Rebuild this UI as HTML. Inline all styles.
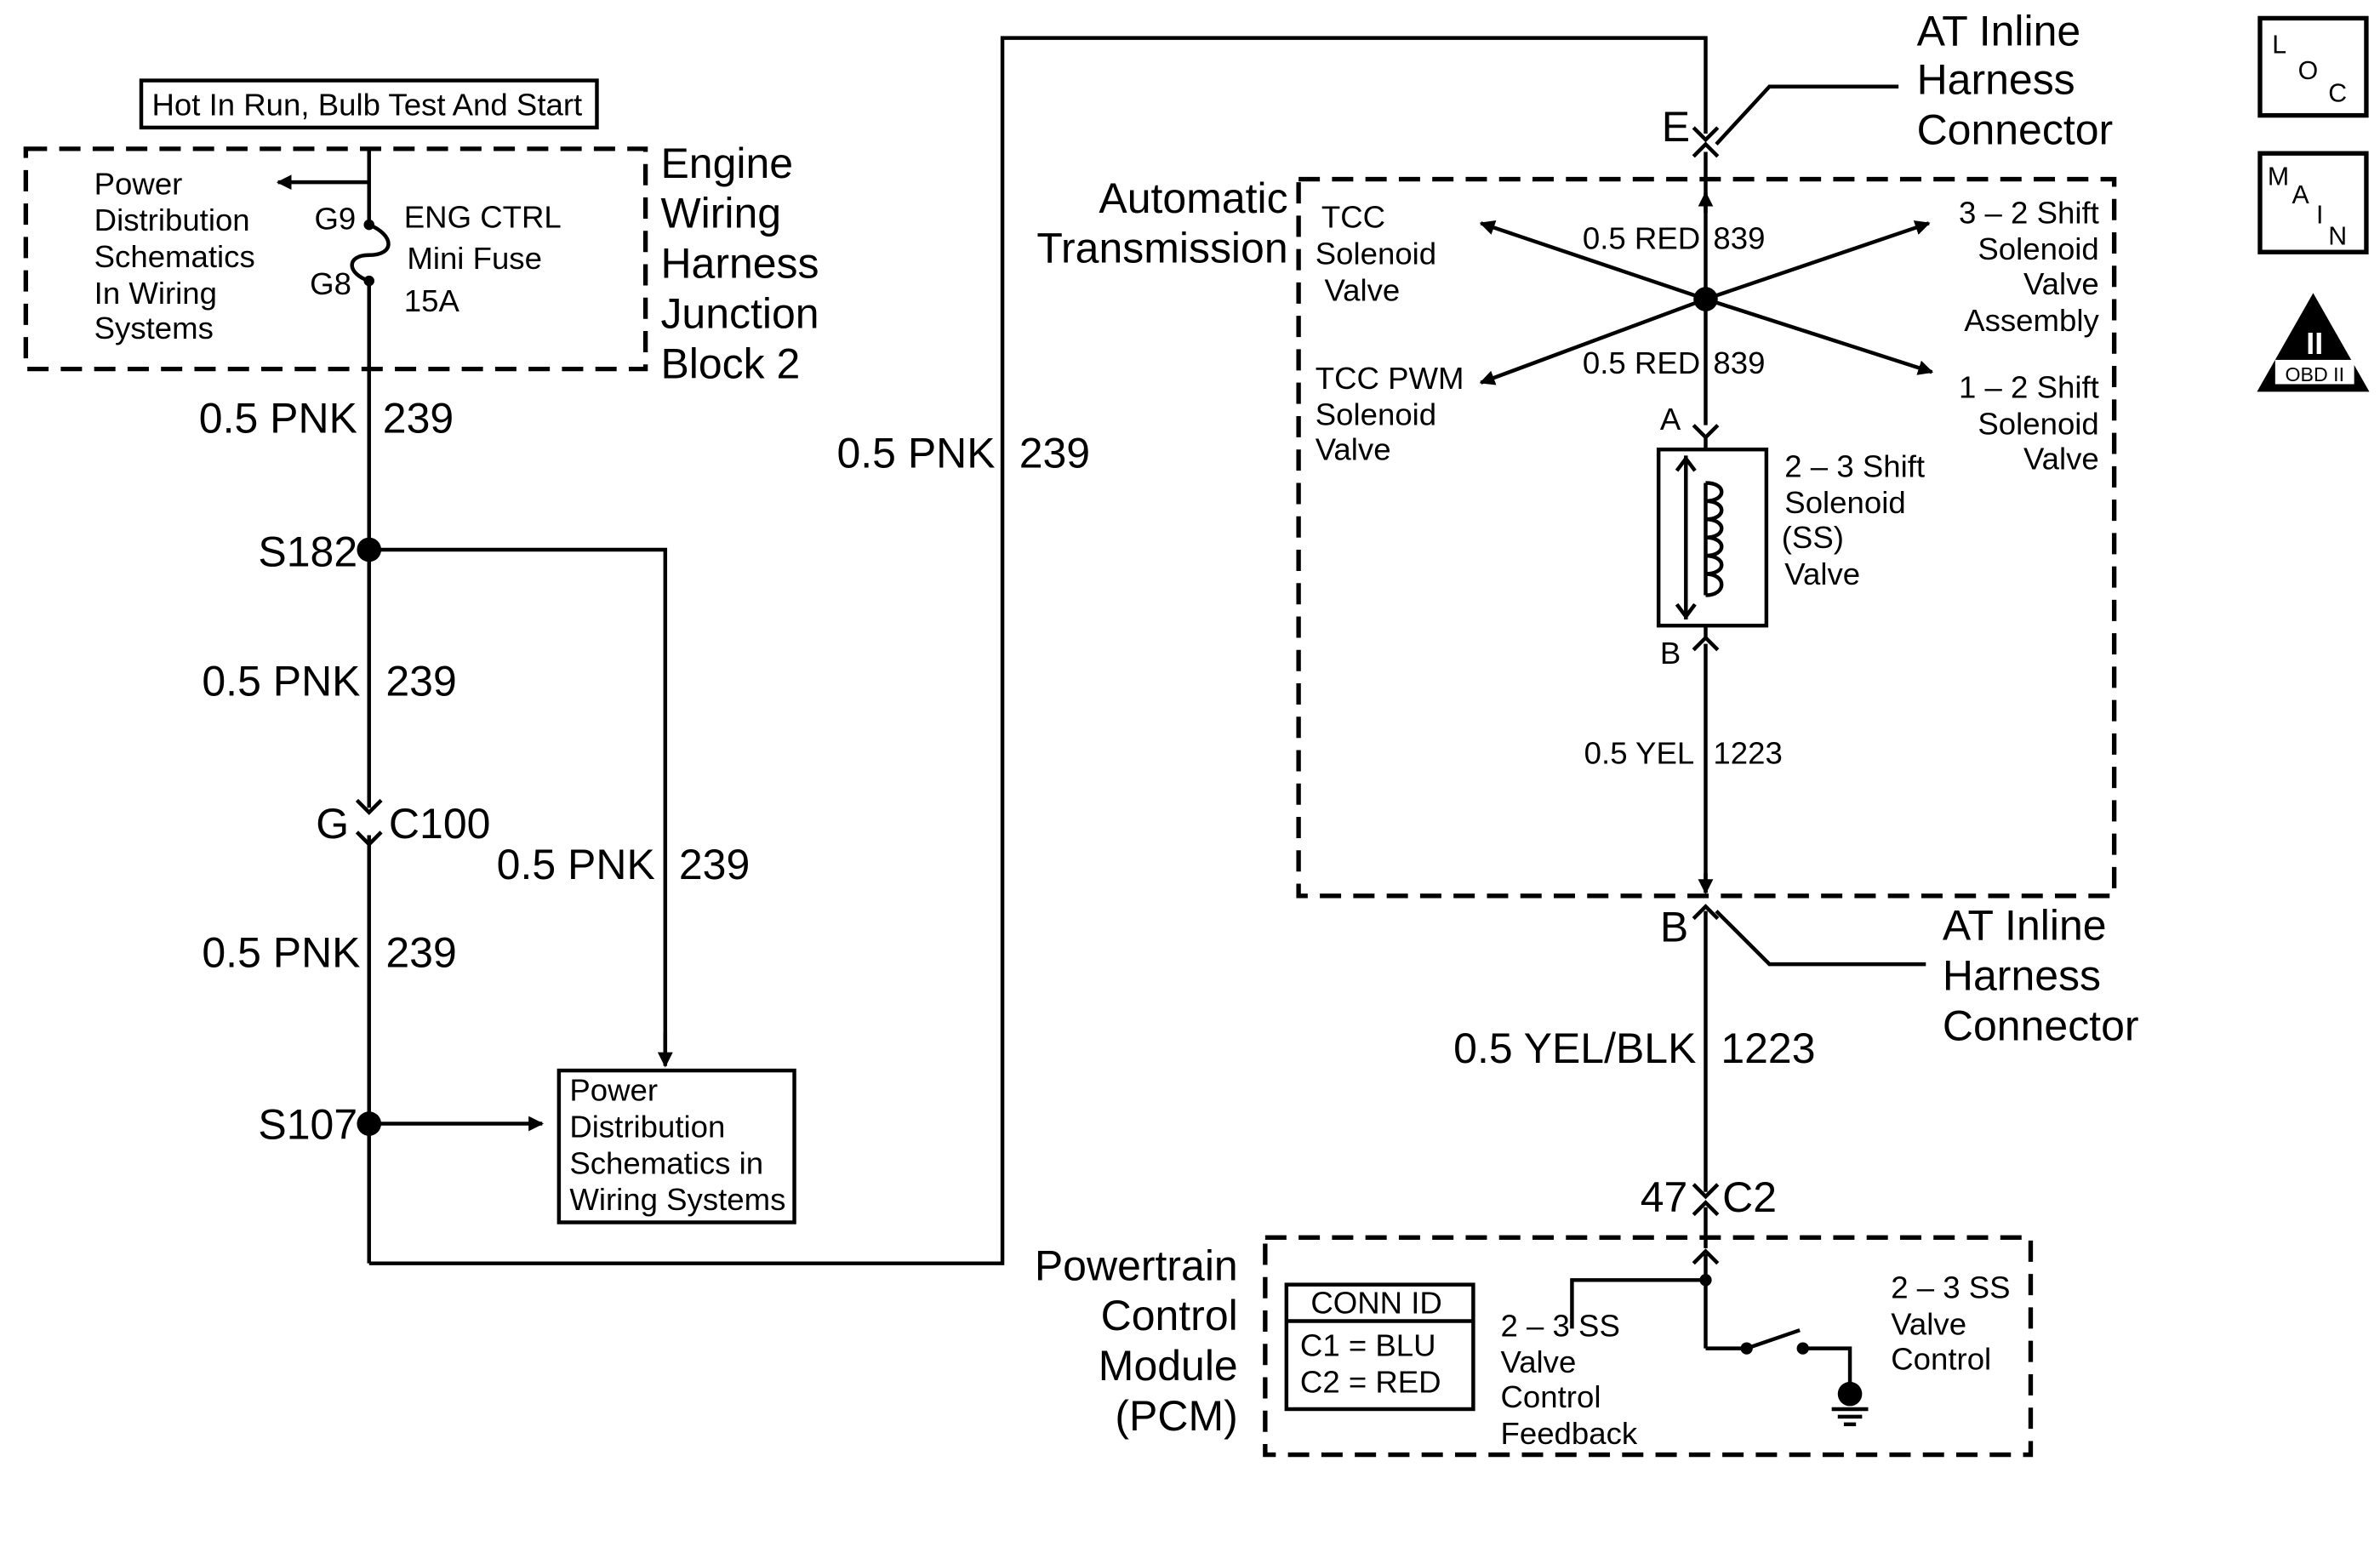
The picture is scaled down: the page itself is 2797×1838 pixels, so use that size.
<!DOCTYPE html>
<html><head><meta charset="utf-8"><style>
html,body{margin:0;padding:0;background:#fff;}
svg{display:block;}
text{font-family:"Liberation Sans",Arial,sans-serif;fill:#000;}
.s{font-size:20.5px;}
.b{font-size:28px;}
</style></head><body>
<svg width="2797" height="1838" viewBox="0 0 1567 1030" preserveAspectRatio="none" xmlns="http://www.w3.org/2000/svg">
<defs>
<marker id="ar" markerWidth="10" markerHeight="10" refX="9" refY="5" orient="auto" markerUnits="userSpaceOnUse"><path d="M0,0 L10,5 L0,10 Z" fill="#000"/></marker>
</defs>
<rect width="1567" height="1030" fill="#fff"/>
<g stroke="#000" fill="none" stroke-width="2.5">
<rect x="93" y="53" width="300" height="31"/>
<rect x="17" y="98" width="408" height="145" stroke-dasharray="14,8" stroke-width="3"/>
<line x1="243" y1="120" x2="183" y2="120" marker-end="url(#ar)"/>
<line x1="243" y1="98" x2="243" y2="148"/>
<path d="M243,148 C260,155 260,168 243,168 C228,168 228,180 243,185"/>
<line x1="243" y1="185" x2="243" y2="532"/>
<line x1="243" y1="550" x2="243" y2="832"/>
<polyline points="235,527 243,535 251,527"/>
<polyline points="235,548 243,556 251,548"/>
<polyline points="243,362 438,362 438,700" />
<line x1="438" y1="680" x2="438" y2="702" marker-end="url(#ar)"/>
<line x1="243" y1="740" x2="357" y2="740" marker-end="url(#ar)"/>
<rect x="368" y="705" width="155" height="100"/>
<polyline points="243,832 660,832 660,25 1123,25 1123,88"/>
<polyline points="1115,84 1123,92 1131,84"/>
<polyline points="1115,103 1123,95 1131,103"/>
<polyline points="1130,95 1165,57 1250,57"/>
<rect x="855" y="118" width="537" height="472" stroke-dasharray="14,8" stroke-width="3"/>
<line x1="1123" y1="100" x2="1123" y2="280"/>
<line x1="1123" y1="140" x2="1123" y2="127" marker-end="url(#ar)"/>
<line x1="1123" y1="197" x2="975" y2="147" marker-end="url(#ar)"/>
<line x1="1123" y1="197" x2="1270" y2="147" marker-end="url(#ar)"/>
<line x1="1123" y1="197" x2="975" y2="252" marker-end="url(#ar)"/>
<line x1="1123" y1="197" x2="1272" y2="245" marker-end="url(#ar)"/>
<polyline points="1115,280 1123,288 1131,280"/>
<line x1="1123" y1="288" x2="1123" y2="296"/>
<rect x="1092" y="296" width="71" height="116"/>
<line x1="1110" y1="300" x2="1110" y2="408"/>
<polyline points="1104,310 1110,302 1116,310"/>
<polyline points="1104,398 1110,406 1116,398"/>
<line x1="1123" y1="318" x2="1123" y2="392"/>
<path d="M1123,318 c14,0 14,12 0,12 c14,0 14,12 0,12 c14,0 14,12 0,12 c14,0 14,12 0,12 c14,0 14,12 0,12 c14,0 14,14 0,14"/>
<line x1="1123" y1="412" x2="1123" y2="420"/>
<polyline points="1115,428 1123,420 1131,428"/>
<line x1="1123" y1="424" x2="1123" y2="588"/>
<line x1="1123" y1="575" x2="1123" y2="588" marker-end="url(#ar)"/>
<polyline points="1115,605 1123,597 1131,605"/>
<polyline points="1130,600 1165,635 1268,635"/>
<line x1="1123" y1="600" x2="1123" y2="785"/>
<polyline points="1115,780 1123,788 1131,780"/>
<polyline points="1115,800 1123,792 1131,800"/>
<line x1="1123" y1="795" x2="1123" y2="822"/>
<rect x="833" y="815" width="504" height="143" stroke-dasharray="14,8" stroke-width="3"/>
<polyline points="1115,832 1123,824 1131,832"/>
<line x1="1123" y1="826" x2="1123" y2="888"/>
<polyline points="1035,875 1035,843 1123,843"/>
<polyline points="1123,888 1150,888 1185,876"/>
<polyline points="1187,888 1218,888 1218,912"/>
<line x1="1206" y1="928" x2="1230" y2="928"/>
<line x1="1210" y1="933" x2="1226" y2="933"/>
<line x1="1214" y1="938" x2="1222" y2="938"/>
<rect x="847" y="846" width="123" height="82"/>
<line x1="847" y1="870" x2="970" y2="870"/>
<rect x="1488" y="12" width="70" height="64" stroke-width="3"/>
<rect x="1488" y="101" width="70" height="65" stroke-width="3"/>
</g>
<g fill="#000">
<circle cx="243" cy="148" r="3.5"/><circle cx="243" cy="185" r="3.5"/>
<circle cx="243" cy="362" r="8"/><circle cx="243" cy="740" r="8"/>
<circle cx="1123" cy="197" r="8"/>
<circle cx="1123" cy="843" r="4"/><circle cx="1150" cy="888" r="4"/><circle cx="1187" cy="888" r="4"/>
<circle cx="1218" cy="918" r="8"/>
<path d="M1523,193 L1486,258 L1560,258 Z"/>
</g>
<rect x="1498" y="237" width="52" height="16" fill="#fff"/>
<text x="1524" y="251" font-size="13" text-anchor="middle">OBD II</text>
<text x="1524" y="233" font-size="20" text-anchor="middle" style="fill:#fff;font-weight:bold">II</text>
<text x="1496" y="35" font-size="17">L</text><text x="1513" y="52" font-size="17">O</text><text x="1533" y="67" font-size="17">C</text>
<text x="1493" y="122" font-size="17">M</text><text x="1509" y="134" font-size="17">A</text><text x="1525" y="147" font-size="17">I</text><text x="1533" y="161" font-size="17">N</text>

<text class="s" x="100" y="76">Hot In Run, Bulb Test And Start</text>
<text class="s"><tspan x="62" y="128">Power</tspan><tspan x="62" y="152">Distribution</tspan><tspan x="62" y="176">Schematics</tspan><tspan x="62" y="200">In Wiring</tspan><tspan x="62" y="223">Systems</tspan></text>
<text class="s" x="207" y="151">G9</text><text class="s" x="204" y="194">G8</text>
<text class="s"><tspan x="266" y="150">ENG CTRL</tspan><tspan x="268" y="177">Mini Fuse</tspan><tspan x="266" y="205">15A</tspan></text>
<text class="b"><tspan x="435" y="117">Engine</tspan><tspan x="435" y="150">Wiring</tspan><tspan x="435" y="183">Harness</tspan><tspan x="435" y="216">Junction</tspan><tspan x="435" y="249">Block 2</tspan></text>
<text class="b" x="131" y="285">0.5 PNK</text><text class="b" x="252" y="285">239</text>
<text class="b" x="170" y="373">S182</text>
<text class="b" x="133" y="458">0.5 PNK</text><text class="b" x="254" y="458">239</text>
<text class="b" x="208" y="552">G</text><text class="b" x="256" y="552">C100</text>
<text class="b" x="327" y="579">0.5 PNK</text><text class="b" x="447" y="579">239</text>
<text class="b" x="133" y="637">0.5 PNK</text><text class="b" x="254" y="637">239</text>
<text class="b" x="170" y="750">S107</text>
<text class="s"><tspan x="375" y="725">Power</tspan><tspan x="375" y="749">Distribution</tspan><tspan x="375" y="773">Schematics in</tspan><tspan x="375" y="797">Wiring Systems</tspan></text>
<text class="b" x="551" y="308">0.5 PNK</text><text class="b" x="671" y="308">239</text>
<text class="b" x="1094" y="93">E</text>
<text class="b"><tspan x="1262" y="30">AT Inline</tspan><tspan x="1262" y="62">Harness</tspan><tspan x="1262" y="95">Connector</tspan></text>
<text class="b" text-anchor="end"><tspan x="848" y="140">Automatic</tspan><tspan x="848" y="173">Transmission</tspan></text>
<text class="s"><tspan x="870" y="150">TCC</tspan><tspan x="866" y="174">Solenoid</tspan><tspan x="872" y="198">Valve</tspan></text>
<text class="s"><tspan x="866" y="256">TCC PWM</tspan><tspan x="866" y="280">Solenoid</tspan><tspan x="866" y="303">Valve</tspan></text>
<text class="s" text-anchor="end"><tspan x="1382" y="147">3 – 2 Shift</tspan><tspan x="1382" y="171">Solenoid</tspan><tspan x="1382" y="194">Valve</tspan><tspan x="1382" y="218">Assembly</tspan></text>
<text class="s" text-anchor="end"><tspan x="1382" y="262">1 – 2 Shift</tspan><tspan x="1382" y="286">Solenoid</tspan><tspan x="1382" y="309">Valve</tspan></text>
<text class="s" x="1042" y="164">0.5 RED</text><text class="s" x="1128" y="164">839</text>
<text class="s" x="1042" y="246">0.5 RED</text><text class="s" x="1128" y="246">839</text>
<text class="s" x="1093" y="283">A</text><text class="s" x="1093" y="437">B</text>
<text class="s"><tspan x="1175" y="314">2 – 3 Shift</tspan><tspan x="1175" y="338">Solenoid</tspan><tspan x="1173" y="361">(SS)</tspan><tspan x="1175" y="385">Valve</tspan></text>
<text class="s" x="1043" y="503">0.5 YEL</text><text class="s" x="1128" y="503">1223</text>
<text class="b" x="1093" y="620">B</text>
<text class="b"><tspan x="1279" y="619">AT Inline</tspan><tspan x="1279" y="652">Harness</tspan><tspan x="1279" y="685">Connector</tspan></text>
<text class="b" x="957" y="700">0.5 YEL/BLK</text><text class="b" x="1133" y="700">1223</text>
<text class="b" x="1080" y="798">47</text><text class="b" x="1134" y="798">C2</text>
<text class="b" text-anchor="end"><tspan x="815" y="843">Powertrain</tspan><tspan x="815" y="876">Control</tspan><tspan x="815" y="909">Module</tspan><tspan x="815" y="942">(PCM)</tspan></text>
<text class="s" x="863" y="865">CONN ID</text>
<text class="s"><tspan x="856" y="893">C1  =  BLU</tspan><tspan x="856" y="917">C2  =  RED</tspan></text>
<text class="s"><tspan x="988" y="880">2 – 3 SS</tspan><tspan x="988" y="904">Valve</tspan><tspan x="988" y="927">Control</tspan><tspan x="988" y="951">Feedback</tspan></text>
<text class="s"><tspan x="1245" y="855">2 – 3 SS</tspan><tspan x="1245" y="879">Valve</tspan><tspan x="1245" y="902">Control</tspan></text>
</svg>
</body></html>
